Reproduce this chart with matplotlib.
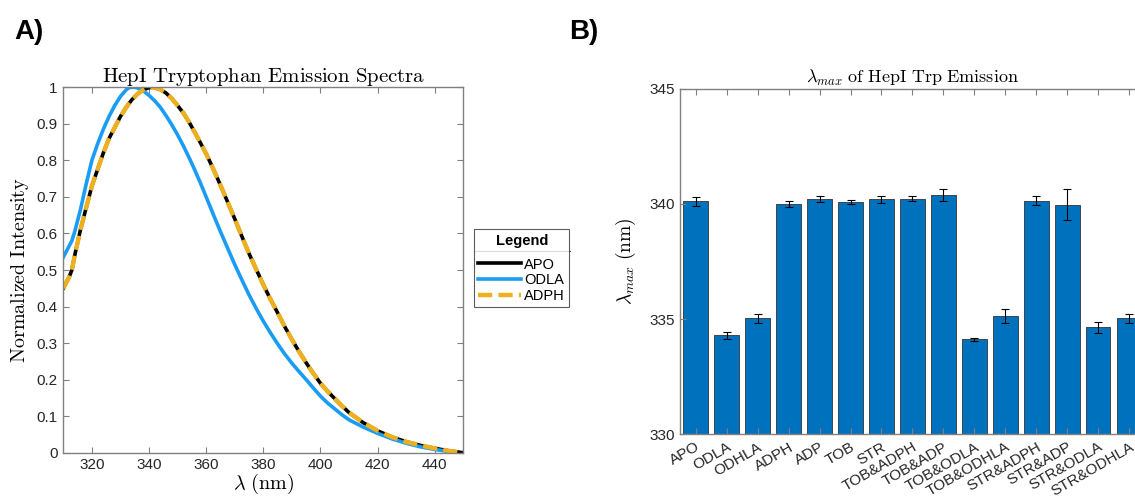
import numpy as np
import matplotlib
matplotlib.use('Agg')
import matplotlib.pyplot as plt
from matplotlib.lines import Line2D

plt.rcParams['font.family'] = ['Liberation Sans', 'DejaVu Sans']
plt.rcParams['mathtext.fontset'] = 'cm'

# emission spectra
wl_apo = [310, 312, 313, 314, 316, 318, 320, 322, 324, 326, 328, 330, 332, 334, 336, 338, 340,
          341, 342, 344, 346, 348, 350, 352, 354, 356, 358, 360, 362, 364, 366, 368, 370,
          372.5, 375, 377.5, 380, 382.5, 385, 387.5, 390, 392.5, 395, 397.5, 400, 402.5,
          405, 407.5, 410, 415, 420, 425, 430, 435, 440, 445, 450]
apo = [0.45, 0.48, 0.50, 0.54, 0.61, 0.67, 0.73, 0.775, 0.82, 0.86, 0.89, 0.92, 0.945, 0.966,
       0.982, 0.993, 0.999, 1.0, 0.999, 0.994, 0.984, 0.969, 0.95, 0.93, 0.905, 0.877, 0.848,
       0.818, 0.785, 0.75, 0.714, 0.677, 0.64, 0.592, 0.545, 0.502, 0.46, 0.42, 0.383, 0.345,
       0.31, 0.277, 0.246, 0.217, 0.19, 0.168, 0.148, 0.128, 0.11, 0.082, 0.06, 0.043, 0.03,
       0.02, 0.012, 0.005, 0.0]
wl_odla = [310, 312, 313, 314, 316, 318, 320, 322, 324, 326, 328, 330, 332, 333, 334, 335, 336,
           338, 340, 342, 344, 346, 348, 350, 352, 354, 356, 358, 360, 362.5, 365, 367.5, 370,
           372.5, 375, 377.5, 380, 382.5, 385, 387.5, 390, 392.5, 395, 397.5, 400, 402.5, 405,
           407.5, 410, 415, 420, 425, 430, 435, 440, 445, 447]
odla = [0.535, 0.565, 0.58, 0.605, 0.665, 0.735, 0.80, 0.845, 0.885, 0.92, 0.95, 0.975, 0.993,
        0.999, 1.0, 1.0, 0.998, 0.99, 0.978, 0.963, 0.945, 0.922, 0.897, 0.87, 0.84, 0.808,
        0.774, 0.738, 0.70, 0.652, 0.605, 0.56, 0.515, 0.473, 0.432, 0.395, 0.36, 0.328, 0.298,
        0.27, 0.245, 0.222, 0.2, 0.177, 0.155, 0.136, 0.12, 0.104, 0.09, 0.07, 0.053, 0.038,
        0.026, 0.016, 0.009, 0.003, 0.0]
adph = apo

# lambda max bars
conds = ['APO', 'ODLA', 'ODHLA', 'ADPH', 'ADP', 'TOB', 'STR', 'TOB&ADPH', 'TOB&ADP',
         'TOB&ODLA', 'TOB&ODHLA', 'STR&ADPH', 'STR&ADP', 'STR&ODLA', 'STR&ODHLA']
lmax = [340.11, 334.29, 335.03, 340.0, 340.21, 340.08, 340.2, 340.23, 340.39,
        334.12, 335.14, 340.14, 339.97, 334.64, 335.03]
lerr = [0.2, 0.17, 0.18, 0.14, 0.14, 0.08, 0.16, 0.1, 0.27,
        0.05, 0.32, 0.2, 0.67, 0.24, 0.18]

W, H = 1135, 498
fig = plt.figure(figsize=(W / 100, H / 100), dpi=100)

spine = '#808080'
tcol = '#262626'


def box(l, t, r, b):
    return [l / W, 1 - b / H, (r - l) / W, (b - t) / H]


# panel A
ax1 = fig.add_axes(box(63.3, 87.3, 463.3, 452.7))
l1, = ax1.plot(wl_apo, apo, color='black', lw=2.6)
l2, = ax1.plot(wl_odla, odla, color='#1a9cf5', lw=2.6)
l3, = ax1.plot(wl_apo, adph, color='#edb120', lw=3.2, dashes=(3.2, 1.4))
ax1.set_xlim(310, 450)
ax1.set_ylim(0, 1)
ax1.set_xticks(np.arange(320, 441, 20))
ax1.set_yticks(np.arange(0, 1.01, 0.1))
ax1.set_yticklabels(['0', '0.1', '0.2', '0.3', '0.4', '0.5', '0.6', '0.7', '0.8', '0.9', '1'])
ax1.set_title(r'$\mathrm{HepI\ Tryptophan\ Emission\ Spectra}$', fontsize=15, pad=4)
ax1.set_xlabel(r'$\lambda\ \mathrm{(nm)}$', fontsize=14.5, labelpad=0)
ax1.set_ylabel(r'$\mathrm{Normalized\ Intensity}$', fontsize=14.5, labelpad=4)

# panel B
ax2 = fig.add_axes(box(680.3, 88.7, 1144.5, 434.3))
x = np.arange(1, len(conds) + 1)
ax2.bar(x, np.array(lmax) - 330, bottom=330, width=0.8, color='#0072bd',
        edgecolor='#333333', linewidth=0.6)
ax2.errorbar(x, lmax, yerr=lerr, fmt='none', ecolor='black', elinewidth=0.8,
             capsize=3, capthick=0.8)
ax2.set_xlim(0.5, len(conds) + 0.5)
ax2.set_ylim(330, 345)
ax2.set_yticks([330, 335, 340, 345])
ax2.set_xticks(x)
ax2.set_xticklabels(conds, rotation=30, ha='right', rotation_mode='anchor')
ax2.set_title(r'$\lambda_{max}\ \mathrm{of\ HepI\ Trp\ Emission}$', fontsize=13, pad=4)
ax2.set_ylabel(r'$\lambda_{max}\ \mathrm{(nm)}$', fontsize=14, labelpad=8)

for ax in (ax1, ax2):
    for s in ax.spines.values():
        s.set_color(spine)
        s.set_linewidth(1.0)
    ax.tick_params(direction='in', length=4, color=spine, labelcolor=tcol,
                   labelsize=11, top=True, right=True, pad=4)

# legend
leg = fig.legend([l1, l2, l3], ['APO', 'ODLA', 'ADPH'], title='Legend',
                 loc='upper left', bbox_to_anchor=(474 / W, 1 - 229.5 / H),
                 fontsize=10.5, title_fontproperties={'weight': 'bold', 'size': 10.5},
                 frameon=True, fancybox=False, edgecolor='#333333',
                 handlelength=2.9, handletextpad=0.25, borderpad=0.3,
                 labelspacing=0.12, borderaxespad=0)
leg.get_frame().set_linewidth(0.8)
leg._legend_box.sep = 7
fig.add_artist(Line2D([474.5 / W, 569.5 / W], [1 - 251.5 / H, 1 - 251.5 / H],
                      color='#555555', lw=0.8))

fig.text(14 / W, 1 - 32 / H, 'A)', fontsize=20, fontweight='bold', va='center')
fig.text(569 / W, 1 - 32 / H, 'B)', fontsize=20, fontweight='bold', va='center')

fig.savefig('out.png', dpi=100)
